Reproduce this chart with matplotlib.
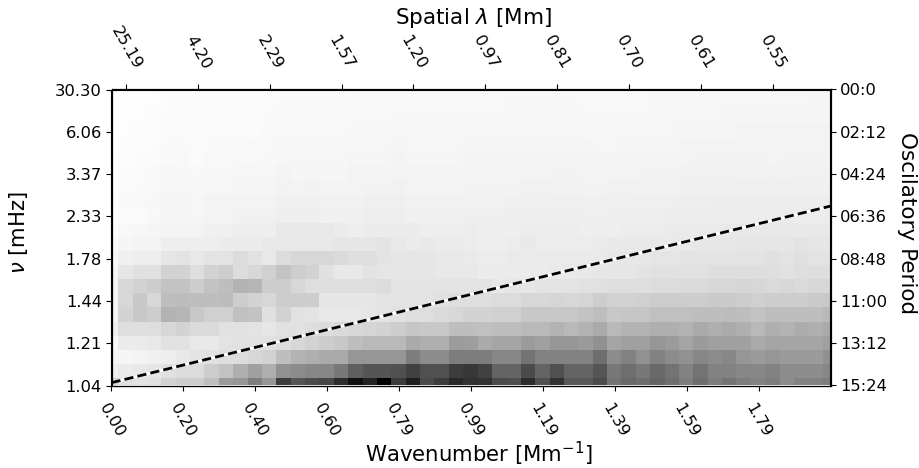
import numpy as np
from matplotlib import pyplot as plt

# grey level of every cell (0 black, 255 white), top row first
row_00 = [254,254,254,253,252,252,252,252,251,251,251,251,250,250,250,250,250,249,249,249,249,249,249,249,249,
          248,248,248,248,248,248,248,248,248,248,248,248,248,247,247,247,247,247,247,247,247,246,246,246,246,246]
row_01 = [254,254,253,253,251,251,251,251,251,250,250,250,249,249,249,249,249,248,248,248,248,248,248,248,248,
          248,248,248,247,247,247,247,247,248,248,248,248,248,247,247,247,247,246,246,246,246,246,246,246,245,245]
row_02 = [254,253,253,252,251,250,251,251,250,250,250,249,248,248,248,248,248,248,248,248,247,247,247,247,247,
          247,247,247,247,247,247,247,247,247,247,247,247,247,246,246,246,246,246,245,245,245,245,245,245,245,245]
row_03 = [254,253,252,252,250,250,251,250,250,250,250,248,248,248,248,248,248,247,247,247,246,247,247,247,247,
          246,246,246,246,246,246,246,246,247,247,247,246,246,246,246,245,245,245,245,244,244,244,244,244,244,244]
row_04 = [254,252,252,251,249,249,250,249,249,249,248,248,247,247,247,247,247,246,246,246,245,246,246,246,246,
          245,245,245,245,245,245,245,245,245,246,246,245,245,245,245,244,244,243,243,243,243,243,243,243,243,243]
row_05 = [253,252,251,251,249,248,250,248,248,248,248,247,246,246,246,246,246,245,245,245,244,245,245,245,245,
          244,244,244,244,244,244,244,244,244,244,244,244,243,243,243,243,242,242,242,242,242,243,242,242,242,242]
row_06 = [253,251,250,249,247,247,248,247,247,246,246,246,244,245,245,245,245,244,244,244,243,244,244,244,244,
          243,243,243,243,243,243,242,242,243,243,243,243,242,242,242,241,241,241,241,241,241,241,241,241,241,241]
row_07 = [252,250,249,248,246,246,247,246,246,245,245,245,242,244,242,243,243,243,242,242,241,243,243,243,243,
          242,242,242,242,241,241,241,241,242,242,241,241,241,241,241,240,240,240,240,239,239,240,239,240,240,240]
row_08 = [252,249,248,247,245,245,246,244,244,243,243,243,240,240,240,241,241,241,239,239,239,241,241,241,241,
          241,241,241,240,240,240,239,239,240,240,240,240,239,239,239,238,238,237,237,237,237,237,237,237,237,237]
row_09 = [253,250,250,248,245,245,246,243,243,241,241,241,238,238,238,240,240,240,238,238,238,240,240,240,240,
          239,239,239,238,238,238,238,238,239,239,238,238,238,238,236,236,236,236,236,236,236,236,236,236,236,236]
row_10 = [252,248,247,245,243,243,243,240,240,238,238,238,232,232,232,232,235,238,235,235,235,235,238,238,238,
          236,238,238,238,236,236,236,236,238,238,238,236,236,236,234,234,234,234,233,233,233,233,233,233,233,233]
row_11 = [250,245,243,243,238,238,238,238,235,235,235,232,232,232,232,232,230,230,230,228,232,235,233,235,235,
          236,238,238,236,233,236,236,236,236,234,233,233,233,233,233,233,231,231,231,230,230,230,230,228,230,230]
row_12 = [248,240,238,238,230,228,232,228,228,220,225,232,220,215,215,215,218,222,222,228,230,230,230,232,232,
          234,236,236,234,234,234,234,234,234,234,231,231,231,229,229,227,227,227,227,227,227,224,227,224,227,227]
row_13 = [245,230,225,225,210,210,222,210,205,220,215,208,195,205,210,225,232,232,228,230,230,230,230,232,232,
          232,235,235,235,235,235,233,233,232,230,230,230,228,225,225,225,225,222,222,222,222,222,225,222,222,222]
row_14 = [245,215,210,205,195,195,205,195,190,180,182,205,205,215,222,222,222,222,222,220,228,228,228,228,228,
          228,228,232,230,230,228,228,228,225,225,222,222,222,220,220,218,218,215,215,213,215,218,215,218,215,215]
row_15 = [245,215,200,215,190,188,190,190,188,205,212,215,205,205,205,230,230,230,230,228,228,228,228,225,222,
          222,222,220,220,215,215,213,215,213,205,210,210,208,205,205,205,205,202,202,205,208,205,205,205,202,200]
row_16 = [245,212,200,205,180,182,200,208,208,192,195,224,210,225,228,232,232,232,230,228,225,222,222,218,215,
          212,212,208,208,200,200,200,200,195,190,200,198,198,192,192,192,190,190,188,190,195,190,190,190,190,185]
row_17 = [240,222,222,222,215,212,218,218,225,225,228,230,225,225,222,220,218,215,213,210,205,198,200,200,190,
          190,192,190,190,185,185,180,185,180,170,185,180,180,175,175,180,170,175,170,175,185,175,180,172,175,170]
row_18 = [248,235,235,232,225,225,232,232,228,225,225,225,222,215,210,205,200,190,185,185,185,170,175,175,155,
          158,170,165,165,155,160,150,150,155,145,165,160,160,150,155,165,155,160,160,160,170,165,165,165,165,160]
row_19 = [245,245,243,240,238,232,228,225,222,220,215,210,190,180,175,170,170,150,150,150,150,125,140,140,125,
          125,125,135,135,115,130,130,130,130,110,140,130,145,130,140,145,135,140,135,150,155,150,155,155,155,145]
row_20 = [240,235,232,230,225,220,220,205,195,175,160,175,145,140,135,135,120,95,85,85,80,65,80,80,60,
          55,65,100,100,75,100,80,100,100,85,120,110,120,105,115,130,115,130,130,135,135,130,140,140,140,135]
row_21 = [210,225,228,225,210,205,205,190,155,150,125,150,60,85,75,70,45,15,35,0,60,30,75,60,40,
          50,50,75,78,45,80,50,90,90,75,115,105,110,100,110,125,110,125,115,125,130,125,140,130,130,125]

wavenumber_labels = ['0.00','0.20','0.40','0.60','0.79','0.99','1.19','1.39','1.59','1.79']
spatial_labels = ['25.19','4.20','2.29','1.57','1.20','0.97','0.81','0.70','0.61','0.55']
nu_labels = ['30.30','6.06','3.37','2.33','1.78','1.44','1.21','1.04']
period_labels = ['00:0','02:12','04:24','06:36','08:48','11:00','13:12','15:24']

# dashed line ends, in cell units
line_x = [0, 50]
line_y = [20.8, 8.27]

power = np.array([row_00,row_01,row_02,row_03,row_04,row_05,row_06,row_07,row_08,row_09,row_10,
                  row_11,row_12,row_13,row_14,row_15,row_16,row_17,row_18,row_19,row_20,row_21])

fig = plt.figure(figsize=(9.2, 4.68), dpi=100)
ax = fig.add_axes([111.5/920, 1-385.5/468, 719/920, 296/468])
ax.imshow(power, cmap='gray', vmin=0, vmax=255, aspect='auto', interpolation='nearest')
ax.plot(line_x, line_y, color='white', lw=2)
ax.plot(line_x, line_y, color='black', lw=2, dashes=(3.3, 1.5))
ax.set_xlim(0, 50)
ax.set_ylim(21, 0)

ax.set_xticks(np.arange(0, 50, 5))
ax.set_xticklabels(wavenumber_labels, rotation=-60, fontsize=11.8)
ax.tick_params(axis='x', pad=8)
ax.set_yticks(np.arange(0, 22, 3))
ax.set_yticklabels(nu_labels, fontsize=11.8)
ax.set_xlabel(r'Wavenumber [Mm$^{-1}$]', fontsize=15.3, labelpad=-0.5, x=0.511)
ax.set_ylabel(r'$\nu$ [mHz]', fontsize=15.2, labelpad=18, y=0.515)

top = ax.twiny()
top.set_xlim(0, 50)
top.set_xticks(np.arange(1, 50, 5))
top.set_xticklabels(spatial_labels, rotation=-60, fontsize=11.8)
top.tick_params(axis='x', pad=9)
top.set_xlabel(r'Spatial $\lambda$ [Mm]', fontsize=15.5, labelpad=0, x=0.504)

right = ax.twinx()
right.set_ylim(21, 0)
right.set_yticks(np.arange(0, 22, 3))
right.set_yticklabels(period_labels, fontsize=11.8)
right.set_ylabel('Oscilatory Period', fontsize=15.5, rotation=270, labelpad=21, y=0.549)

fig.savefig('out.png', dpi=100)
